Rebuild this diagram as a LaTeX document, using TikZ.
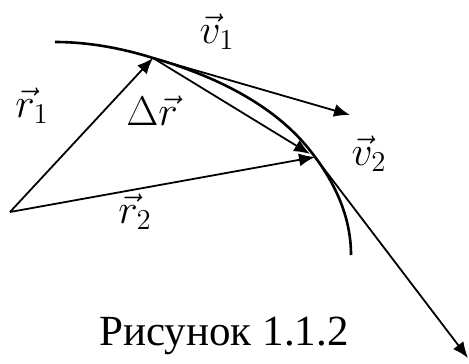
\documentclass[tikz,border=0pt]{standalone}
\usepackage{fontspec}
\setmainfont{Liberation Serif}
\usetikzlibrary{arrows.meta}

\begin{document}
\begin{tikzpicture}[x=0.5pt,y=-0.5pt,
  vec/.style={-{Latex[length=8pt,width=6.5pt]}, line width=0.9pt},
  lbl/.style={font=\fontsize{22}{25}\selectfont}]

  \useasboundingbox (0,0) rectangle (469,363);

  \coordinate (O) at (10,212);
  \coordinate (P1) at (153,58);
  \coordinate (P2) at (315,157);
  \coordinate (V1) at (350,115);
  \coordinate (V2) at (468,358);
  \coordinate (A) at (55,42);
  \coordinate (E) at (351,255);

  % trajectory
  \draw [line width=1.3pt] (A) .. controls (88,42) and (121,48) .. (P1)
    .. controls (212,75) and (275,104) .. (312,153)
    .. controls (336,184) and (351,218) .. (E);

  \draw [vec] (O) -- (P1);
  \draw [vec] (O) -- (P2);
  \draw [vec] (P1) -- (310,154);
  \draw [vec] (P1) -- (V1);
  \draw [vec] (P2) -- (V2);

  \node [lbl] (r1) at (32,106) {$\vec{r}_1$};
  \node [lbl] (r2) at (135,212) {$\vec{r}_2$};
  \node [lbl] (dr) at (152,111) {$\Delta\vec{r}$};
  \node [lbl] (v1) at (217,32) {$\vec{v}_1$};
  \node [lbl] (v2) at (369,154) {$\vec{v}_2$};

  \node [font=\fontsize{21.5}{24}\selectfont] (cap) at (224,336) {Рисунок 1.1.2};

\end{tikzpicture}
\end{document}
